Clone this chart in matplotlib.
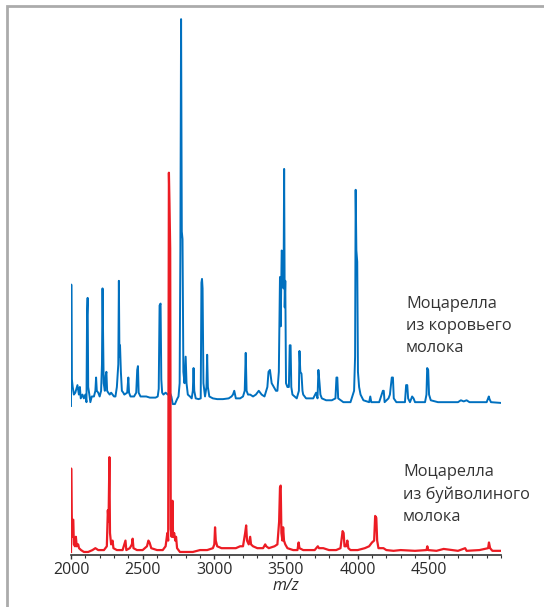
import matplotlib.pyplot as plt
from matplotlib.patches import Rectangle

# m/z vertices and intensity (% of main peak)
cow_mz = [2000, 2002, 2006, 2012, 2020, 2030, 2045, 2055, 2062, 2068, 2080, 2090, 2100, 2108, 2112, 2116, 2120,
          2128, 2135, 2145, 2160, 2170, 2175, 2180, 2190, 2200, 2210, 2216, 2220, 2224, 2228, 2236, 2242, 2247,
          2252, 2260, 2270, 2280, 2290, 2300, 2310, 2320, 2330, 2334, 2338, 2342, 2348, 2355, 2365, 2372, 2392,
          2400, 2405, 2415, 2440, 2455, 2462, 2467, 2472, 2485, 2500, 2520, 2525, 2550, 2570, 2590, 2605, 2612,
          2618, 2625, 2630, 2636, 2645, 2660, 2675, 2690, 2700, 2710, 2725, 2740, 2750, 2758, 2763, 2768, 2773,
          2778, 2784, 2792, 2800, 2806, 2815, 2830, 2842, 2850, 2855, 2860, 2870, 2890, 2905, 2910, 2914, 2918,
          2924, 2935, 2945, 2950, 2955, 2965, 2990, 3020, 3060, 3100, 3120, 3130, 3139, 3150, 3180, 3200, 3212,
          3219, 3225, 3235, 3250, 3270, 3290, 3310, 3330, 3350, 3370, 3378, 3388, 3400, 3415, 3430, 3440, 3450,
          3458, 3463, 3470, 3478, 3483, 3487, 3491, 3495, 3500, 3510, 3520, 3526, 3532, 3537, 3545, 3560, 3575,
          3590, 3594, 3600, 3608, 3615, 3620, 3640, 3660, 3675, 3690, 3710, 3720, 3726, 3734, 3740, 3750, 3780,
          3820, 3845, 3852, 3858, 3864, 3900, 3950, 3975, 3982, 3986, 3991, 3997, 4002, 4010, 4020, 4040, 4080,
          4088, 4095, 4150, 4176, 4182, 4188, 4215, 4225, 4238, 4246, 4252, 4270, 4330, 4338, 4346, 4352, 4365,
          4380, 4390, 4400, 4470, 4480, 4485, 4492, 4498, 4510, 4560, 4700, 4720, 4740, 4760, 4780, 4900, 4915,
          4920, 4930, 5000]
cow_int = [-1, 31, 6, 4, 2, 2.5, 4.5, 2, 4, 1, 2, 1, 2, 0, 23, 27.5, 4, 2, 0, 1.5, 1.5, 3, 6.5, 3, 2.5, 1.5, 3, 10,
           30, 17, 5, 3, 7, 8, 3, 2.5, 2, 2.5, 2, 1.5, 1.5, 4, 10, 32, 12, 15, 8, 3, 2.5, 2, 2.5, 6.5, 2.5, 1.5,
           1.5, 2.5, 8.5, 9.5, 2.5, 1.5, 1.5, 1.5, 1.5, 1.2, 1.2, 1.2, 1.5, 3.5, 25.5, 26, 6, 2.5, 2, 2.5, 2, 2.5,
           1.5, -0.5, -0.5, 0.8, 1.5, 5, 40, 101, 45, 43, 8, 5, 12, 5, 2, 1.5, 1, 3, 9, 3, 1, 0.8, 1, 31.5, 32.5,
           30, 5, 1.5, 4, 12.5, 4, 1.5, 1, 0.8, 0.8, 1, 1.5, 2, 3, 1, 1, 1.5, 3, 13, 3, 2, 2, 1.5, 2, 3, 2, 1.5,
           4, 8, 8.5, 5, 4, 3, 3, 8, 33, 20, 40, 39, 30, 61.5, 25, 32, 5, 4, 4, 15, 15, 4, 2, 1.5, 1, 3, 13.5, 8,
           7.5, 3, 2, 1, 1, 1, 1, 2.5, 1, 8.5, 5, 2, 1, 0.5, 0.5, 1, 6.5, 6.5, 1, 0, 0, 3, 12, 56, 40, 37, 8, 4, 2,
           0.5, 0, 1.5, 0, 0, 3, 3, 0, 1, 2, 6.5, 6.5, 1, 0, 0, 4.5, 4.5, 1, 0, 1.5, 1, 0, 0, 2, 9, 8.5, 2, 0.5,
           0, 0, 0.5, 0.2, 0.5, 0, 0, 1.5, 0.8, 0, -0.2]

buffalo_mz = [2000, 2001, 2004, 2008, 2012, 2016, 2020, 2028, 2034, 2040, 2050, 2056, 2070, 2090, 2120, 2150,
              2170, 2190, 2230, 2250, 2257, 2262, 2268, 2272, 2280, 2290, 2296, 2320, 2360, 2380, 2386, 2410,
              2425, 2430, 2436, 2460, 2500, 2530, 2540, 2548, 2560, 2600, 2640, 2660, 2672, 2678, 2683, 2687,
              2692, 2696, 2702, 2708, 2712, 2720, 2727, 2733, 2740, 2760, 2800, 2850, 2900, 2950, 2990, 3000,
              3005, 3010, 3020, 3050, 3100, 3150, 3180, 3200, 3215, 3222, 3228, 3240, 3250, 3256, 3270, 3300,
              3340, 3355, 3362, 3380, 3420, 3440, 3452, 3458, 3463, 3468, 3475, 3480, 3486, 3495, 3510, 3550,
              3580, 3588, 3594, 3620, 3700, 3722, 3730, 3760, 3800, 3850, 3880, 3895, 3902, 3908, 3920, 3928,
              3935, 3950, 4000, 4050, 4080, 4100, 4115, 4122, 4130, 4136, 4145, 4180, 4200, 4250, 4300, 4400,
              4480, 4486, 4492, 4550, 4600, 4700, 4750, 4760, 4850, 4910, 4916, 4924, 4940, 5000]
buffalo_int = [0, 22, 10, 4, 8.5, 8.5, 2, 1.5, 4, 1.5, 2, 1, 0.5, 0, 0, 0.5, 1, 0.5, 0.5, 1.5, 11, 8, 25, 5, 2, 3,
               1, 0.5, 0.5, 3, 0.5, 1, 2, 3.5, 1, 0.5, 0.5, 1.5, 3, 2.5, 1, 0.5, 0.5, 1.5, 5, 3, 100, 92, 80,
               6, 4, 13.5, 4, 5, 3, 4, 1, 0, 0, 0, 0.5, 0.5, 1, 2, 6.5, 3, 1.5, 1, 1, 1, 1.5, 1.5, 5, 7, 3, 2,
               4, 2, 1.5, 1, 1, 2, 1.5, 1, 1.5, 2, 8, 17, 17.5, 5, 3, 6.5, 3, 2, 1, 0.5, 0.5, 2.5, 1, 0.5, 0.5,
               1.5, 1, 1, 0.5, 0.5, 1, 5.5, 5, 1.5, 1.5, 3, 1, 0.5, 0.5, 1, 1.5, 2.5, 3, 9.5, 9, 3, 1, 1, 0.5,
               0.3, 0.5, 0.3, 0.5, 1.5, 0.5, 0.3, 0.8, 0.3, 1, 0.3, 0.5, 1, 2.5, 1, 0.3, 0.3]

cow_label = "Моцарелла\nиз коровьего\nмолока"
buffalo_label = "Моцарелла\nиз буйволиного\nмолока"
xticks = [2000, 2500, 3000, 3500, 4000, 4500]
cow_offset = 39.5

plt.rcParams['font.family'] = ['Open Sans', 'DejaVu Sans']

fig = plt.figure(figsize=(5.44, 6.07), dpi=100)
ax = fig.add_axes([71 / 544, 1 - 555 / 607, 430 / 544, 537 / 607])

ax.plot(cow_mz, [v + cow_offset for v in cow_int], color='#0070bf', lw=1.4, zorder=2)
ax.plot(buffalo_mz, buffalo_int, color='#ec1c24', lw=1.6, zorder=3)

ax.set_xlim(2000, 5000)
ax.set_ylim(-0.8, 140.8)
ax.set_xticks(xticks)
ax.set_xticks(range(2000, 5001, 100), minor=True)
ax.tick_params(axis='x', which='major', length=3, width=1, color='#333333',
               labelsize=11.5, labelcolor='#2b2b2b', pad=2)
ax.tick_params(axis='x', which='minor', length=2, width=0.8, color='#333333')
ax.set_yticks([])
for s in ['top', 'right', 'left']:
    ax.spines[s].set_visible(False)
ax.spines['bottom'].set_color('#333333')
ax.spines['bottom'].set_linewidth(1.2)
ax.set_xlabel('m/z', fontsize=11.5, style='italic', color='#2b2b2b', labelpad=0)

fig.text(406 / 544, 1 - 296 / 607, cow_label, fontsize=11.8, color='#333333',
         va='top', ha='left', linespacing=1.5)
fig.text(403 / 544, 1 - 464 / 607, buffalo_label, fontsize=11.8, color='#333333',
         va='top', ha='left', linespacing=1.5)

# grey frame (top and left edges visible)
fig.patches.append(Rectangle((6.5 / 544, -0.1), 1.2, 1 - 6 / 607 + 0.1, transform=fig.transFigure,
                             fill=False, edgecolor='#ababab', lw=2))

fig.savefig('out.png', dpi=100)
